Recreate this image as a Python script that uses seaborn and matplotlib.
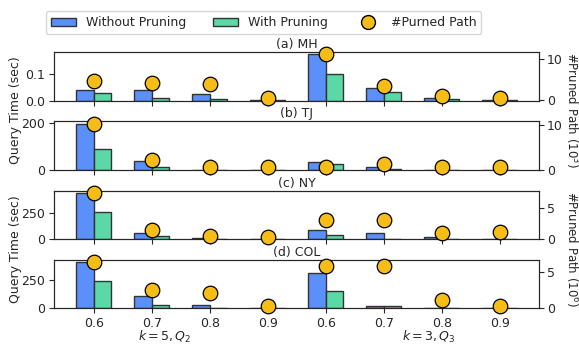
import matplotlib

matplotlib.use("Agg")
import matplotlib.pyplot as plt
import numpy as np
import pandas as pd
import seaborn as sns
from matplotlib.lines import Line2D
from matplotlib.patches import Patch

# x groups: first four k=5,Q2 then four k=3,Q3
groups = ["q2_0.6", "q2_0.7", "q2_0.8", "q2_0.9", "q3_0.6", "q3_0.7", "q3_0.8", "q3_0.9"]
tick_labels = ["0.6", "0.7", "0.8", "0.9", "0.6", "0.7", "0.8", "0.9"]

datasets = ["(a) MH", "(b) TJ", "(c) NY", "(d) COL"]

# query time (sec)
mh_without = [0.040, 0.040, 0.026, 0.002, 0.173, 0.047, 0.010, 0.002]
mh_with = [0.028, 0.010, 0.004, 0.001, 0.101, 0.033, 0.004, 0.001]
tj_without = [197, 38, 1.0, 0.5, 34, 14, 1.0, 0.5]
tj_with = [91, 11, 0.5, 0.3, 23, 3, 0.5, 0.3]
ny_without = [448, 60, 7, 5, 93, 60, 22, 5]
ny_with = [266, 26, 3, 2, 45, 5, 5, 2]
col_without = [411, 109, 35, 3, 314, 26, 8, 2]
col_with = [244, 35, 4, 2, 155, 20, 3, 1]

# pruned paths (10^3 for MH/TJ, 10^6 for NY/COL)
mh_pruned = [4.7, 4.2, 4.0, 0.5, 11.2, 3.5, 1.0, 0.6]
tj_pruned = [10.4, 2.3, 0.7, 0.7, 0.7, 1.3, 0.7, 0.7]
ny_pruned = [7.5, 1.4, 0.5, 0.3, 3.0, 3.1, 1.0, 1.15]
col_pruned = [6.4, 2.5, 2.07, 0.2, 5.9, 5.9, 1.05, 0.2]

without_all = [mh_without, tj_without, ny_without, col_without]
with_all = [mh_with, tj_with, ny_with, col_with]
pruned_all = [mh_pruned, tj_pruned, ny_pruned, col_pruned]

left_ticks = [[0.0, 0.1], [0, 200], [0, 250], [0, 250]]
left_fmt = ["{:.1f}", "{:.0f}", "{:.0f}", "{:.0f}"]
right_ticks = [[0, 10], [0, 10], [0, 5], [0, 5]]

BLUE = "#5B8FF9"
GREEN = "#5AD8A6"
GOLD = "#F6BD16"
EDGE = "#333333"
FS = 9

sns.set_style("ticks")
plt.rcParams["font.family"] = ["DejaVu Sans"]
plt.rcParams["font.size"] = FS

fig, axes = plt.subplots(4, 1, figsize=(5.79, 3.45), dpi=100)
fig.subplots_adjust(left=0.0938, right=0.931, top=0.849, bottom=0.106, hspace=0.43)

for i, ax in enumerate(axes):
    df = pd.DataFrame(
        {
            "group": groups * 2,
            "method": ["Without Pruning"] * len(groups) + ["With Pruning"] * len(groups),
            "time": without_all[i] + with_all[i],
        }
    )
    sns.barplot(
        data=df,
        x="group",
        y="time",
        hue="method",
        order=groups,
        palette=[BLUE, GREEN],
        saturation=1,
        width=0.6,
        edgecolor=EDGE,
        linewidth=1,
        legend=False,
        ax=ax,
    )
    ax.set_xlim(-0.68, 7.68)
    ax.set_yticks(left_ticks[i])
    ax.set_yticklabels([left_fmt[i].format(t) for t in left_ticks[i]])
    ax.set_xlabel("")
    ax.set_ylabel("")
    ax.set_title(datasets[i], fontsize=FS, pad=3)
    ax.set_xticks(range(len(groups)))
    if i < 3:
        ax.set_xticklabels([])
    else:
        ax.set_xticklabels(tick_labels)
    ax.tick_params(labelsize=FS, length=3.5, pad=3)

    ax2 = ax.twinx()
    sns.scatterplot(
        x=np.arange(len(groups)),
        y=pruned_all[i],
        s=110,
        color=GOLD,
        edgecolor="black",
        linewidth=0.9,
        zorder=5,
        clip_on=False,
        ax=ax2,
    )
    ax2.set_yticks(right_ticks[i])
    ax2.tick_params(labelsize=FS, length=3.5, pad=2)
    ax2.set_xlim(-0.68, 7.68)

fig.text(0.026, 0.68, "Query Time (sec)", rotation=90, ha="center", va="center", fontsize=FS)
fig.text(0.026, 0.278, "Query Time (sec)", rotation=90, ha="center", va="center", fontsize=FS)
fig.text(0.987, 0.68, "#Pruned Path (10$^3$)", rotation=270, ha="center", va="center", fontsize=8.5)
fig.text(0.987, 0.278, "#Pruned Path (10$^6$)", rotation=270, ha="center", va="center", fontsize=8.5)
fig.text(0.285, 0.022, "$k=5,Q_2$", ha="center", va="center", fontsize=FS)
fig.text(0.741, 0.022, "$k=3,Q_3$", ha="center", va="center", fontsize=FS)

handles = [
    Patch(facecolor=BLUE, edgecolor=EDGE, label="Without Pruning"),
    Patch(facecolor=GREEN, edgecolor=EDGE, label="With Pruning"),
    Line2D([0], [0], marker="o", color="none", markerfacecolor=GOLD,
           markeredgecolor="black", markersize=10, label="#Purned Path"),
]
fig.legend(handles=handles, loc="upper center", bbox_to_anchor=(0.455, 0.985),
           ncol=3, fontsize=FS, frameon=True, handlelength=2.0, columnspacing=2.2)

plt.savefig("out.png", dpi=100)
